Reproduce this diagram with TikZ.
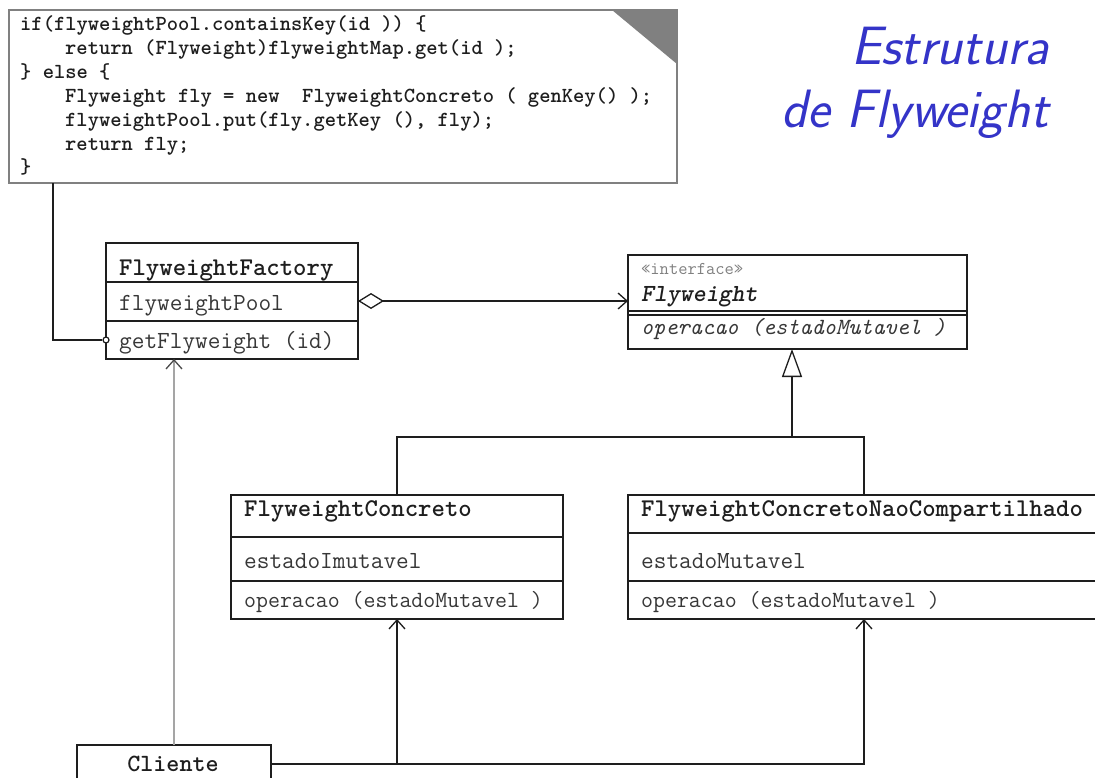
\documentclass[tikz,border=0pt]{standalone}
\usepackage{fontspec}
\usetikzlibrary{arrows.meta,calc}
\definecolor{ttlblue}{RGB}{52,52,200}
\definecolor{umlink}{RGB}{30,30,30}
\definecolor{notegray}{RGB}{128,128,128}
\definecolor{navgray}{RGB}{165,165,165}
\definecolor{txtgray}{RGB}{55,55,55}

\begin{document}
\begin{tikzpicture}[x=1pt,y=-1pt,
  umlbox/.style={draw=umlink,line width=1.6pt,inner sep=0pt,outer sep=0pt,anchor=north west},
  sep/.style={draw=umlink,line width=1.5pt},
  cname/.style={anchor=base west,inner sep=0pt,font=\ttfamily\bfseries\fontsize{25.5}{28}\selectfont,text=umlink},
  cbody/.style={anchor=base west,inner sep=0pt,font=\ttfamily\fontsize{24.6}{28}\selectfont,text=txtgray},
  cop/.style={anchor=base west,inner sep=0pt,font=\ttfamily\fontsize{23.2}{28}\selectfont,text=txtgray},
  code/.style={anchor=base west,inner sep=0pt,font=\ttfamily\bfseries\fontsize{21.5}{24}\selectfont,text=umlink},
  title/.style={anchor=base east,inner sep=0pt,font=\sffamily\itshape\fontsize{54}{60}\selectfont,text=ttlblue},
  link/.style={draw=umlink,line width=1.5pt},
  barb/.tip={Straight Barb[length=9pt,width=16pt,line width=1.3pt]},
  nav/.style={link,-barb},
]
\useasboundingbox (0,0) rectangle (1095,778);
\clip (0,0) rectangle (1095,778);
\fill[white] (0,0) rectangle (1095,778);

% ---- code note with folded corner ----
\node[draw=notegray,line width=1.5pt,inner sep=0pt,outer sep=0pt,anchor=north west,
      minimum width=668pt,minimum height=173pt,fill=white] (note) at (9,10) {};
\fill[notegray] (612,10) -- (677,10) -- (677,64) -- cycle;
\node[code] (c1) at (20,31)  {if(flyweightPool.containsKey(id )) \{};
\node[code] (c2) at (65,55)  {return (Flyweight)flyweightMap.get(id );};
\node[code] (c3) at (20,79)  {\} else \{};
\node[code] (c4) at (65,103) {Flyweight fly = new\ \ FlyweightConcreto ( genKey() );};
\node[code] (c5) at (65,127) {flyweightPool.put(fly.getKey (), fly);};
\node[code] (c6) at (65,151) {return fly;};
\node[code] (c7) at (20,174) {\}};

% ---- title ----
\node[title] (t1) at (1049,65)  {Estrutura};
\node[title] (t2) at (1049,128) {de Flyweight};

% ---- FlyweightFactory ----
\node[umlbox,minimum width=252pt,minimum height=116pt] (factory) at (106,243) {};
\draw[sep] ($(factory.north west)+(0,39)$) -- ($(factory.north east)+(0,39)$);
\draw[sep] ($(factory.north west)+(0,78)$) -- ($(factory.north east)+(0,78)$);
\node[cname] (factoryname) at (119,275) {FlyweightFactory};
\node[cbody] (factorypool) at (119,310) {flyweightPool};
\node[cbody] (factoryget)  at (119,348) {getFlyweight (id)};

% ---- Flyweight interface ----
\node[umlbox,minimum width=339pt,minimum height=94pt] (fw) at (628,255) {};
\draw[sep] ($(fw.north west)+(0,56)$) -- ($(fw.north east)+(0,56)$);
\draw[sep] ($(fw.north west)+(0,60)$) -- ($(fw.north east)+(0,60)$);
\node[anchor=base west,inner sep=0pt,font=\ttfamily\fontsize{18}{20}\selectfont,text=notegray] (fwst) at (641,274) {«interface»};
\node[cname,font=\ttfamily\bfseries\itshape\fontsize{24.6}{28}\selectfont] (fwname) at (641,301) {Flyweight};
\node[cop,font=\ttfamily\itshape\fontsize{23.2}{28}\selectfont] (fwop) at (641,334) {operacao (estadoMutavel )};

% ---- FlyweightConcreto ----
\node[umlbox,minimum width=332pt,minimum height=124pt] (fc) at (231,495) {};
\draw[sep] ($(fc.north west)+(0,42)$) -- ($(fc.north east)+(0,42)$);
\draw[sep] ($(fc.north west)+(0,86)$) -- ($(fc.north east)+(0,86)$);
\node[cname] (fcname) at (244,516) {FlyweightConcreto};
\node[cbody] (fcattr) at (244,568) {estadoImutavel};
\node[cop]   (fcop)   at (244,607) {operacao (estadoMutavel )};

% ---- FlyweightConcretoNaoCompartilhado ----
\node[umlbox,minimum width=480pt,minimum height=124pt] (fcnc) at (628,495) {};
\draw[sep] ($(fcnc.north west)+(0,38)$) -- ($(fcnc.north east)+(0,38)$);
\draw[sep] ($(fcnc.north west)+(0,86)$) -- ($(fcnc.north east)+(0,86)$);
\node[cname] (fcncname) at (641,516) {FlyweightConcretoNaoCompartilhado};
\node[cbody] (fcncattr) at (641,568) {estadoMutavel};
\node[cop]   (fcncop)   at (641,607) {operacao (estadoMutavel )};

% ---- Cliente ----
\node[umlbox,minimum width=194pt,minimum height=38pt] (cliente) at (77,745) {};
\node[anchor=base,inner sep=0pt,font=\ttfamily\bfseries\fontsize{24.8}{28}\selectfont,text=umlink] (clientename) at (173,771) {Cliente};

% ---- connectors ----
% note attached to getFlyweight
\node[circle,draw=umlink,line width=1.2pt,fill=white,inner sep=0pt,minimum size=6pt] (port) at (106,340) {};
\draw[link] ($(note.south west)+(44,0)$) |- (port.west);

% aggregation factory -> flyweight
\draw[link,{Diamond[open,length=26pt,width=16pt,line width=1.3pt]}-barb]
  (factory.east) -- (factory.east -| fw.west);

% generalization
\coordinate (gj) at (792,437);
\coordinate (fcnctop) at ($(fcnc.north west)+(236,0)$);
\coordinate (fcncbot) at ($(fcnc.south west)+(236,0)$);
\draw[link] (fc.north) |- (gj) -| (fcnctop);
\draw[link,-{Triangle[open,length=28pt,width=20pt,line width=1.3pt]}] (gj) -- (gj |- fw.south);

% client associations
\draw[draw=navgray,line width=1.8pt,-{Straight Barb[length=9pt,width=16pt,line width=1.3pt,color=umlink!80]}]
  (cliente.north) -- (cliente.north |- factory.south);
\draw[nav] (cliente.east) -| (fcncbot);
\draw[nav] (cliente.east -| fc.south) -- (fc.south);
\end{tikzpicture}
\end{document}
